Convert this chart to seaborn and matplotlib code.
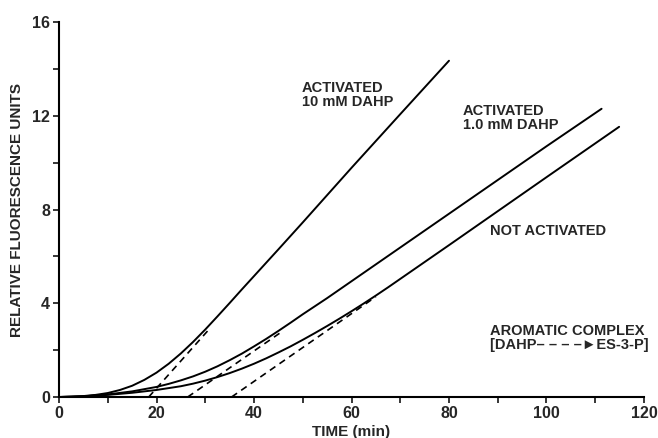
import numpy as np
import pandas as pd
import matplotlib
matplotlib.use("Agg")
import matplotlib.pyplot as plt
import seaborn as sns

# curves (time in min, relative fluorescence units)
t_10mm = [0, 2.5, 5, 7.5, 10, 12.5, 15, 17.5, 20, 22.5, 25, 27.5, 30, 32.5, 35, 37.5, 40,
          45, 50, 60, 70, 80]
y_10mm = [0, 0.01, 0.04, 0.09, 0.17, 0.3, 0.48, 0.73, 1.04, 1.42, 1.86, 2.35, 2.88, 3.44,
          4.01, 4.59, 5.16, 6.3, 7.45, 9.78, 12.07, 14.35]

t_1mm = [0, 5, 10, 15, 20, 22.5, 25, 27.5, 30, 32.5, 35, 37.5, 40, 42.5, 45, 47.5, 50,
         55, 60, 70, 80, 90, 100, 111.3]
y_1mm = [0, 0.03, 0.11, 0.24, 0.43, 0.56, 0.71, 0.88, 1.08, 1.31, 1.57, 1.85, 2.16, 2.48,
         2.82, 3.17, 3.53, 4.22, 4.94, 6.38, 7.82, 9.26, 10.7, 12.3]

t_not = [0, 5, 10, 15, 20, 25, 27.5, 30, 32.5, 35, 37.5, 40, 42.5, 45, 47.5, 50, 52.5,
         55, 57.5, 60, 62.5, 65, 67.5, 70, 75, 80, 90, 100, 114.9]
y_not = [0, 0.03, 0.09, 0.18, 0.3, 0.46, 0.57, 0.7, 0.85, 1.02, 1.21, 1.42, 1.65, 1.9,
         2.16, 2.44, 2.73, 3.03, 3.34, 3.66, 3.99, 4.33, 4.68, 5.04, 5.76, 6.48, 7.93,
         9.38, 11.53]

# dashed extrapolations of the linear parts back to the time axis
dash_x = [[18.4, 31.0], [26.4, 46.0], [35.4, 65.0]]
dash_y = [[0, 2.94], [0, 2.83], [0, 4.28]]

curves = pd.concat([
    pd.DataFrame({"time": t_10mm, "rfu": y_10mm, "run": "10 mM"}),
    pd.DataFrame({"time": t_1mm, "rfu": y_1mm, "run": "1.0 mM"}),
    pd.DataFrame({"time": t_not, "rfu": y_not, "run": "not"}),
])

sns.set_style("ticks")
plt.rcParams["font.family"] = ["Liberation Sans", "DejaVu Sans"]
plt.rcParams["font.weight"] = "bold"

fig = plt.figure(figsize=(6.58, 4.38), dpi=100)
ax = fig.add_axes([0.0897, 0.0936, 0.889, 0.856])

sns.lineplot(data=curves, x="time", y="rfu", units="run", estimator=None,
             color="black", linewidth=1.4, ax=ax, legend=False)
for xs, ys in zip(dash_x, dash_y):
    sns.lineplot(x=xs, y=ys, color="black", linewidth=1.2, ax=ax,
                 linestyle=(0, (4, 3)))

ax.set_xlim(0, 120)
ax.set_ylim(0, 16)
ax.set_xticks(range(0, 121, 20))
ax.set_xticks(range(0, 121, 10), minor=True)
ax.set_yticks(range(0, 17, 4))
ax.set_yticks(range(0, 17, 2), minor=True)
ax.tick_params(which="both", direction="out", length=4.5, width=1.1, labelsize=11.5, pad=2,
               color="black")
for lab in ax.get_xticklabels() + ax.get_yticklabels():
    lab.set_fontweight("bold")
sns.despine(ax=ax)
for s in ["left", "bottom"]:
    ax.spines[s].set_linewidth(1.5)
    ax.spines[s].set_color("black")

ax.set_xlabel("TIME (min)", fontsize=11, fontweight="bold")
ax.set_ylabel("RELATIVE FLUORESCENCE UNITS", fontsize=11, fontweight="bold")
ax.xaxis.set_label_coords(0.5, -0.075)
ax.yaxis.set_label_coords(-0.06, 0.5)

txt = dict(fontsize=10.5, fontweight="bold", va="top", ha="left", linespacing=1.0)
ax.text(49.8, 13.5, "ACTIVATED\n10 mM DAHP", **txt)
ax.text(82.9, 12.5, "ACTIVATED\n1.0 mM DAHP", **txt)
ax.text(88.4, 7.4, "NOT ACTIVATED", **txt)
ax.text(88.4, 3.1, "AROMATIC COMPLEX\n[DAHP\u2013 \u2013 \u2013 \u2013\u25BAES-3-P]", **txt)

fig.savefig("out.png", dpi=100)
